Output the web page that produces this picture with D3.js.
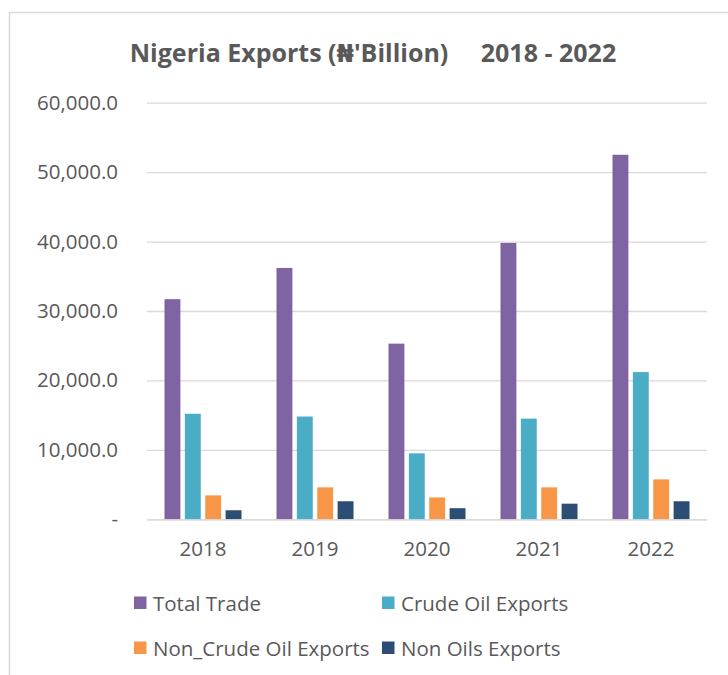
<!DOCTYPE html>
<html>
<head>
<meta charset="utf-8">
<script src="https://cdn.jsdelivr.net/npm/d3@7"></script>
<style>
  html, body { margin: 0; padding: 0; background: #ffffff; }
  svg { display: block; }
  text { font-family: "Open Sans", "DejaVu Sans", sans-serif; fill: #595959; }
</style>
</head>
<body>
<svg id="chart" width="728" height="675"></svg>
<script>
// Nigeria exports, ₦ billion, by year
const years = ["2018", "2019", "2020", "2021", "2022"];
const seriesNames = ["Total Trade", "Crude Oil Exports", "Non_Crude Oil Exports", "Non Oils Exports"];
const totalTrade = [31700, 36200, 25300, 39800, 52500];
const crudeOilExports = [15200, 14800, 9500, 14500, 21200];
const nonCrudeOilExports = [3450, 4600, 3150, 4600, 5750];
const nonOilsExports = [1300, 2600, 1600, 2250, 2600];
const seriesColors = ["#8064A2", "#4BACC6", "#F79646", "#2C4D75"];
const yTickValues = [0, 10000, 20000, 30000, 40000, 50000, 60000];
const yTickLabels = ["-", "10,000.0", "20,000.0", "30,000.0", "40,000.0", "50,000.0", "60,000.0"];
const titleText = "Nigeria Exports (₦'Billion)     2018 - 2022";

const seriesValues = [totalTrade, crudeOilExports, nonCrudeOilExports, nonOilsExports];

const svg = d3.select("#chart");

// outer chart-area frame
svg.append("rect")
  .attr("x", 9.5).attr("y", 12.5)
  .attr("width", 740).attr("height", 700)
  .attr("fill", "none")
  .attr("stroke", "#d9d9d9")
  .attr("stroke-width", 1.5);

const plot = { left: 147, right: 707, top: 102.7, bottom: 519.3 };
const labelSize = "20.5px";

const x = d3.scaleBand().domain(years).range([plot.left, plot.right]).paddingInner(0).paddingOuter(0);
const groupWidth = 77;
const xInner = d3.scaleBand().domain(seriesNames)
  .range([-groupWidth / 2, groupWidth / 2]).paddingInner(0.22).paddingOuter(0);
const y = d3.scaleLinear().domain([0, 60000]).range([plot.bottom, plot.top]);

// title
svg.append("text")
  .attr("x", 373).attr("y", 52)
  .attr("text-anchor", "middle")
  .attr("dominant-baseline", "central")
  .style("white-space", "pre")
  .style("font-weight", "bold")
  .style("font-size", "25px")
  .text(titleText);

// horizontal gridlines and y axis labels
const yAxis = d3.axisLeft(y)
  .tickValues(yTickValues)
  .tickSize(-(plot.right - plot.left))
  .tickPadding(29)
  .tickFormat((d, i) => yTickLabels[i]);

const gy = svg.append("g")
  .attr("transform", `translate(${plot.left},0)`)
  .call(yAxis);
gy.select(".domain").remove();
gy.selectAll(".tick line").attr("stroke", "#d9d9d9").attr("stroke-width", 1.3);
gy.selectAll(".tick text")
  .attr("fill", "#595959")
  .style("font-size", labelSize)
  .style("font-family", "'Open Sans', sans-serif");

// bars
const groups = svg.append("g").selectAll("g")
  .data(years)
  .join("g")
  .attr("transform", d => `translate(${x(d) + x.bandwidth() / 2},0)`);

groups.selectAll("rect")
  .data((yr, yi) => seriesNames.map((name, si) => ({ name, color: seriesColors[si], value: seriesValues[si][yi] })))
  .join("rect")
  .attr("x", d => xInner(d.name))
  .attr("width", xInner.bandwidth())
  .attr("y", d => y(d.value))
  .attr("height", d => y(0) - y(d.value))
  .attr("fill", d => d.color);

// category axis
const xAxis = d3.axisBottom(x).tickSize(0).tickPadding(22);
const gx = svg.append("g")
  .attr("transform", `translate(0,${plot.bottom})`)
  .call(xAxis);
gx.select(".domain").attr("stroke", "#d9d9d9").attr("stroke-width", 1.3);
gx.selectAll(".tick text")
  .attr("fill", "#595959")
  .style("font-size", labelSize)
  .style("font-family", "'Open Sans', sans-serif");

// legend
const legendPos = [
  { x: 134, y: 603 },
  { x: 382, y: 603 },
  { x: 134, y: 648 },
  { x: 382, y: 648 }
];
const legend = svg.append("g").selectAll("g")
  .data(seriesNames)
  .join("g")
  .attr("transform", (d, i) => `translate(${legendPos[i].x},${legendPos[i].y})`);
legend.append("rect")
  .attr("x", 0).attr("y", -6.5)
  .attr("width", 12.5).attr("height", 12.5)
  .attr("fill", (d, i) => seriesColors[i]);
legend.append("text")
  .attr("x", 19).attr("y", 0)
  .attr("dominant-baseline", "central")
  .style("font-size", labelSize)
  .text(d => d);
</script>
</body>
</html>
